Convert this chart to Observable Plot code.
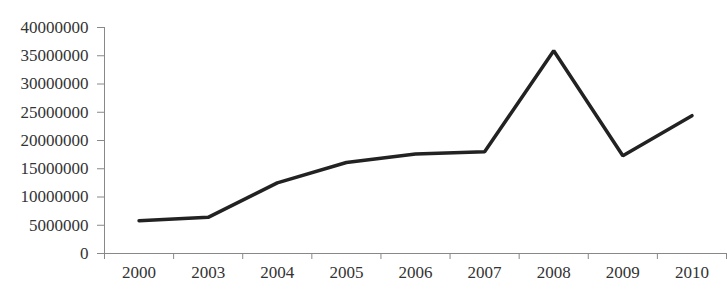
<!DOCTYPE html>
<html>
<head>
<meta charset="utf-8">
<script src="https://cdn.jsdelivr.net/npm/d3@7"></script>
<script src="https://cdn.jsdelivr.net/npm/@observablehq/plot@0.6"></script>
<style>
  html, body { margin: 0; padding: 0; background: #fff; }
  svg { display: block; }
</style>
</head>
<body>
<div id="chart"></div>
<script>
const years = ["2000", "2003", "2004", "2005", "2006", "2007", "2008", "2009", "2010"];
const values = [5800000, 6400000, 12500000, 16100000, 17600000, 18000000, 35900000, 17300000, 24400000];
const yTicks = [0, 5000000, 10000000, 15000000, 20000000, 25000000, 30000000, 35000000, 40000000];

const data = years.map((yr, i) => ({i, year: yr, value: values[i]}));
const centers = years.map((_, i) => i);
const bounds = [...years.map((_, i) => i - 0.5), years.length - 0.5];

const chart = Plot.plot({
  width: 727,
  height: 293,
  marginLeft: 104,
  marginRight: 1,
  marginTop: 27,
  marginBottom: 40,
  style: {fontFamily: "'Liberation Serif', 'Times New Roman', serif", fontSize: "17px", color: "#333", background: "#fff"},
  x: {type: "linear", domain: [-0.5, years.length - 0.5]},
  y: {domain: [0, 40000000]},
  marks: [
    Plot.axisY({ticks: yTicks, tickFormat: d3.format("d"), tickSize: 7, tickPadding: 9, stroke: "#888", strokeOpacity: 1, label: null, fill: "#333"}),
    Plot.axisX({ticks: bounds, tickFormat: () => "", tickSize: 6, stroke: "#888", strokeOpacity: 1, label: null}),
    Plot.axisX({ticks: centers, tickFormat: i => years[i], tickSize: 0, tickPadding: 12, label: null, fill: "#333"}),
    Plot.ruleX([-0.5], {y1: 0, y2: 40000000, stroke: "#888"}),
    Plot.ruleY([0], {stroke: "#888"}),
    Plot.line(data, {x: "i", y: "value", stroke: "#222", strokeWidth: 3.5, strokeLinejoin: "miter", strokeLinecap: "round"})
  ]
});
document.getElementById("chart").appendChild(chart);
</script>
</body>
</html>
